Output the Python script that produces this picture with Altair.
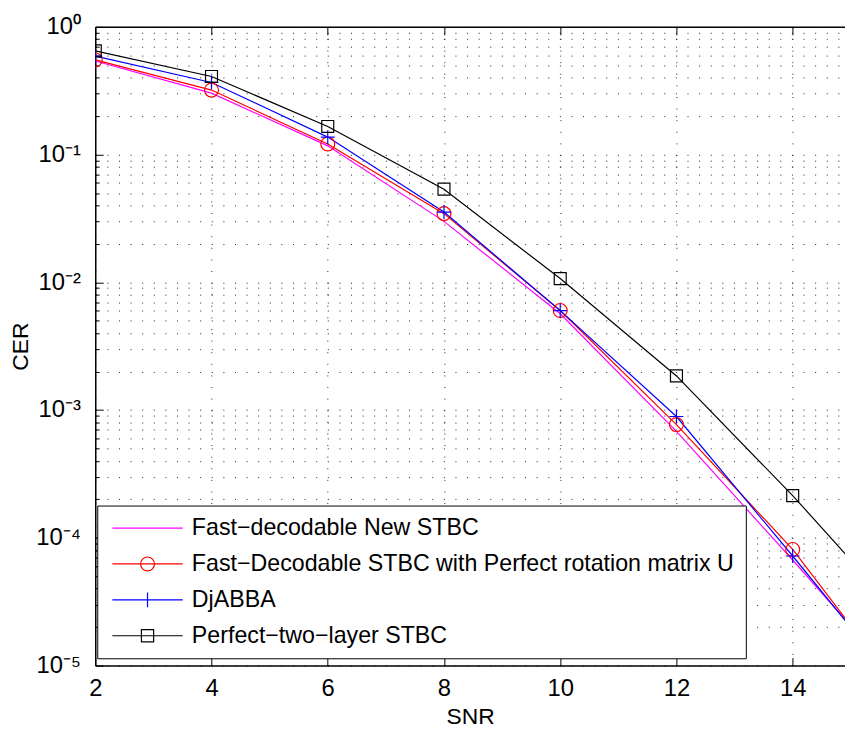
import altair as alt
import pandas as pd

# ---------------- data ----------------
snr = [2, 4, 6, 8, 10, 12, 14, 16]
series_names = [
    "Fast−decodable New STBC",
    "Fast−Decodable STBC with Perfect rotation matrix U",
    "DjABBA",
    "Perfect−two−layer STBC",
]
cer_new = [0.54, 0.303, 0.117, 0.030, 0.00567, 6.8e-4, 6.7e-5, 6.2e-6]
cer_perfect_u = [0.551, 0.32, 0.121, 0.0345, 0.00602, 7.7e-4, 8.1e-5, 5.2e-6]
cer_djabba = [0.59, 0.367, 0.137, 0.0355, 0.0060, 8.9e-4, 7.2e-5, 5.5e-6]
cer_two_layer = [0.648, 0.409, 0.166, 0.0536, 0.0107, 0.00185, 2.14e-4, 2.1e-5]
series_values = [cer_new, cer_perfect_u, cer_djabba, cer_two_layer]
colors = ["#ff00ff", "#ff0000", "#0000ff", "#000000"]

x_ticks = [2, 4, 6, 8, 10, 12, 14]
decades = [1, 0.1, 0.01, 0.001, 1e-4, 1e-5]
decade_labels = ["10⁰", "10⁻¹", "10⁻²", "10⁻³", "10⁻⁴", "10⁻⁵"]
minor_vals = [m * d for d in [0.1, 0.01, 0.001, 1e-4, 1e-5] for m in range(2, 10)]

# ---------------- tables ----------------
rows = []
for name, vals in zip(series_names, series_values):
    for s, v in zip(snr, vals):
        rows.append({"series": name, "snr": s, "cer": v})
df = pd.DataFrame(rows)
marker_series = series_names[1:]
df_markers = df[df["series"].isin(marker_series)]

# plot markers (unit = half of sqrt(size))
marker_paths = ["circle", "M-1,0L1,0M0,-1L0,1", "M-0.86,-0.86L0.86,-0.86L0.86,0.86L-0.86,0.86Z"]
# legend glyphs: line sample + marker
L = 5.07
legend_paths = [
    f"M-{L},0L{L},0",
    f"M-{L},0L{L},0M1,0A1,1 0 1,1 -1,0A1,1 0 1,1 1,0",
    f"M-{L},0L{L},0M0,-1.07L0,1.07",
    f"M-{L},0L{L},0M-0.88,-0.88L0.88,-0.88L0.88,0.88L-0.88,0.88Z",
]

FONT = "Liberation Sans"
W, H = 756, 644
x_scale = alt.Scale(domain=[2, 14.9], nice=False, zero=False)
y_scale = alt.Scale(type="log", domain=[1e-5, 1], nice=False)
color_scale = alt.Scale(domain=series_names, range=colors)

label_expr = " : ".join(
    f"abs(datum.value / {d} - 1) < 1e-6 ? '{lab}'" for d, lab in zip(decades, decade_labels)
) + " : ''"

grid_dash = [1, 10.7]

# Layer 1: lines + main axes with labels and dotted grid
lines = alt.Chart(df).mark_line(strokeWidth=1.2, clip=True).encode(
    x=alt.X("snr:Q", scale=x_scale, axis=alt.Axis(
        orient="bottom", values=x_ticks, format="d", labelFont=FONT, labelFontSize=24,
        labelColor="black", labelPadding=11, labelFlush=False, labelOverlap=False,
        ticks=False, tickSize=0, domain=True, domainColor="black", domainWidth=1.5,
        grid=True, gridDash=grid_dash, gridColor="#222", gridWidth=1,
        title="SNR", titleFont=FONT, titleFontSize=23, titleFontWeight="normal",
        titleColor="black", titleY=58.5, titleBaseline="alphabetic")),
    y=alt.Y("cer:Q", scale=y_scale, axis=alt.Axis(
        orient="left", values=decades + minor_vals, labelExpr=label_expr,
        labelFont=FONT, labelFontSize=24, labelColor="black", labelPadding=15,
        labelFlush=False, labelOverlap=False, ticks=False, tickSize=0,
        domain=True, domainColor="black", domainWidth=1.5,
        grid=True, gridDash=grid_dash, gridColor="#222", gridWidth=1,
        title="CER", titleFont=FONT, titleFontSize=23, titleFontWeight="normal",
        titleColor="black", titleX=-68, titleY=322, titleBaseline="alphabetic",
        titleAngle=270, titleAlign="center")),
    color=alt.Color("series:N", scale=color_scale, legend=None),
    detail="series:N",
)

# Layer 2: markers + inward major ticks
markers = alt.Chart(df_markers).mark_point(filled=False, size=196, strokeWidth=1.2, clip=True, opacity=1).encode(
    x=alt.X("snr:Q", scale=x_scale, axis=alt.Axis(
        orient="top", offset=-H, values=x_ticks, labels=False, domain=False, grid=False,
        ticks=True, tickSize=8, tickColor="black", tickWidth=1, title=None)),
    y=alt.Y("cer:Q", scale=y_scale, axis=alt.Axis(
        orient="right", offset=-W, values=decades, labels=False, domain=False, grid=False,
        ticks=True, tickSize=8, tickColor="black", tickWidth=1, title=None)),
    color=alt.Color("series:N", scale=color_scale, legend=None),
    shape=alt.Shape("series:N", scale=alt.Scale(domain=marker_series, range=marker_paths), legend=None),
)

legend = alt.Legend(
    title=None, orient="none", legendX=2, legendY=482.7, padding=11,
    strokeColor="black", fillColor="white", symbolSize=196, symbolStrokeWidth=1.2,
    symbolOffset=28, labelOffset=33, rowPadding=11.2, symbolOpacity=1,
    labelFont=FONT, labelFontSize=23.4, labelColor="black", labelLimit=1000,
)

# Layer 3: invisible points carrying the legend, top border and minor ticks
legend_layer = alt.Chart(df).mark_point(filled=False, opacity=0, clip=True, size=196).encode(
    x=alt.X("snr:Q", scale=x_scale, axis=alt.Axis(
        orient="bottom", offset=-H, values=x_ticks, labels=False, domain=True,
        domainColor="black", domainWidth=1.5, grid=False, ticks=True, tickSize=8,
        tickColor="black", tickWidth=1, title=None)),
    y=alt.Y("cer:Q", scale=y_scale, axis=alt.Axis(
        orient="right", offset=-W, values=minor_vals, labels=False, domain=False, grid=False,
        ticks=True, tickSize=4, tickColor="black", tickWidth=1, title=None)),
    color=alt.Color("series:N", scale=color_scale, legend=legend),
    shape=alt.Shape("series:N", scale=alt.Scale(domain=series_names, range=legend_paths), legend=legend),
)

chart = (
    alt.layer(lines, markers, legend_layer)
    .resolve_axis(x="independent", y="independent")
    .resolve_scale(color="independent", shape="independent")
    .properties(
        width=W, height=H,
        autosize=alt.AutoSizeParams(type="none"),
        padding={"left": 88, "top": 16, "right": 0, "bottom": 60},
        background="white",
    )
    .configure_view(stroke=None)
)

chart.save("out.html", embed_options={"renderer": "svg", "actions": False})
